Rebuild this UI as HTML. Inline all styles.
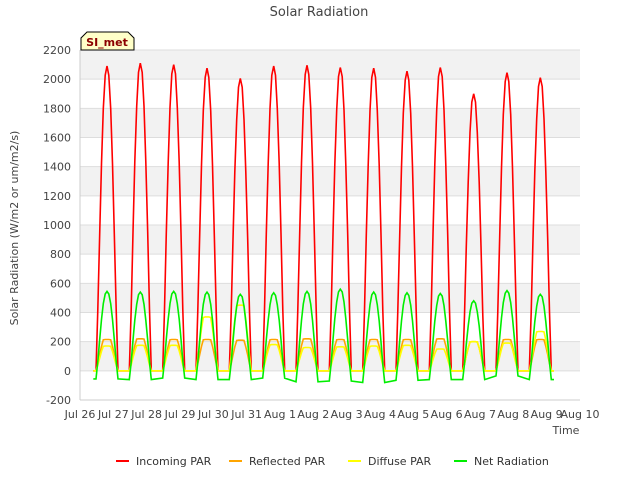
<!DOCTYPE html>
<html><head><meta charset="utf-8"><style>
body{margin:0;background:#fff;font-family:"Liberation Sans","DejaVu Sans",sans-serif;}
svg text{font-family:"DejaVu Sans","Liberation Sans",sans-serif;}
</style></head><body>
<svg id="c" width="640" height="480">
<rect x="0" y="0" width="640" height="480" fill="#fff"/>
<text x="319" y="16" text-anchor="middle" font-size="13" fill="#444">Solar Radiation</text>
<g id="bands"></g><g id="grid"></g><g id="ticks"></g><g id="series"></g>
<text x="566" y="434" text-anchor="middle" font-size="11" fill="#444">Time</text>
<text transform="translate(18,228) rotate(-90)" text-anchor="middle" font-size="11" fill="#444">Solar Radiation (W/m2 or um/m2/s)</text>
<g>
<path d="M81,50 L81,38 L87,32 L128,32 L134,38 L134,50 Z" fill="#ffffc8" stroke="#000" stroke-width="1"/>
<text x="107" y="46" text-anchor="middle" font-size="11" font-weight="bold" fill="#8b0000">SI_met</text>
</g>
<g id="legend"></g>
</svg>
<script>
const days=["Jul 26","Jul 27","Jul 28","Jul 29","Jul 30","Jul 31","Aug 1","Aug 2","Aug 3","Aug 4","Aug 5","Aug 6","Aug 7","Aug 8","Aug 9","Aug 10"];
const yTicks=[-200,0,200,400,600,800,1000,1200,1400,1600,1800,2000,2200];
const incomingPeak=[2090,2110,2100,2075,2005,2090,2095,2080,2075,2055,2080,1900,2045,2010];
const reflectedPeak=[215,220,215,215,210,215,220,215,215,215,220,200,215,215];
const diffusePeak=[170,175,175,370,450,180,160,165,170,175,150,200,190,270];
const netPeak=[545,540,545,540,525,535,545,560,540,535,530,480,550,525];
const netNight=[-55,-60,-50,-60,-60,-50,-75,-70,-80,-65,-60,-60,-35,-60];
const shape=[0,0.2,0.45,0.68,0.86,0.97,1,0.97,0.86,0.68,0.45,0.2,0];
const X0=80,X1=580,Y0=50,Y1=400;
const xs=d=>X0+(X1-X0)*d/15;
const ys=v=>Y1-(Y1-Y0)*(v+200)/2400;
const ns="http://www.w3.org/2000/svg";
function mk(tag,attrs,parent){const e=document.createElementNS(ns,tag);for(const k in attrs)e.setAttribute(k,attrs[k]);document.getElementById(parent).appendChild(e);return e;}
for(let i=0;i<yTicks.length-1;i++){
 const r=mk('rect',{x:X0,y:ys(yTicks[i+1]),width:X1-X0,height:ys(yTicks[i])-ys(yTicks[i+1]),fill:i%2?'#f2f2f2':'#fff'},'bands');
 
 
}
yTicks.forEach(v=>{
 const l=mk('line',{x1:X0,x2:X1,y1:ys(v),y2:ys(v),stroke:'#ddd'},'grid');
 
 
 const t=mk('text',{x:X0-9,y:ys(v)+4,'text-anchor':'end','font-size':11,fill:'#444'},'ticks');t.textContent=v;
 
 
});
mk('line',{x1:X0,x2:X0,y1:Y0,y2:Y1,stroke:'#ccc'},'grid');
mk('line',{x1:X0,x2:X1,y1:Y1,y2:Y1,stroke:'#ccc'},'grid');
days.forEach((d,i)=>{
 const t=mk('text',{x:xs(i),y:Y1+18,'text-anchor':'middle','font-size':11,fill:'#444'},'ticks');t.textContent=d;
 
 
});
const START=0.48,SPAN=0.66;
function series(peaks,base,color,name,flat){
 let pts=[];
 for(let d=0;d<peaks.length;d++){
  const b=base?base[d]:0;
  if(d===0)pts.push([0.4,b]);
  shape.forEach((s,h)=>{
   let f=flat?Math.min(1,s*1.15):s;
   pts.push([d+START+h*SPAN/12,b+(peaks[d]-b)*f]);
  });
 }
 const lb=base?base[base.length-1]:0;
 pts.push([peaks.length-1+1.22,lb]);
 const p=mk('polyline',{points:pts.map(q=>xs(q[0]).toFixed(1)+','+ys(q[1]).toFixed(1)).join(' '),fill:'none',stroke:color,'stroke-width':1.6},'series');
 
 
}
series(incomingPeak,null,'#ff0000','incoming-par-line',false);
series(reflectedPeak,null,'#ffa500','reflected-par-line',true);
series(diffusePeak,null,'#ffff00','diffuse-par-line',true);
series(netPeak,netNight,'#00ee00','net-radiation-line',false);
const leg=[["Incoming PAR","#ff0000",116],["Reflected PAR","#ffa500",229],["Diffuse PAR","#ffff00",348],["Net Radiation","#00ee00",454]];
leg.forEach(l=>{
 const g=mk('g',{},'legend');
 
 
 const ln=document.createElementNS(ns,'line');
 [['x1',l[2]],['x2',l[2]+13],['y1',461],['y2',461],['stroke',l[1]],['stroke-width',2]].forEach(a=>ln.setAttribute(a[0],a[1]));g.appendChild(ln);
 const t=document.createElementNS(ns,'text');
 t.setAttribute('x',l[2]+20);t.setAttribute('y',465);t.setAttribute('font-size',11);t.setAttribute('fill','#333');t.textContent=l[0];g.appendChild(t);
});
</script>
</body></html>
